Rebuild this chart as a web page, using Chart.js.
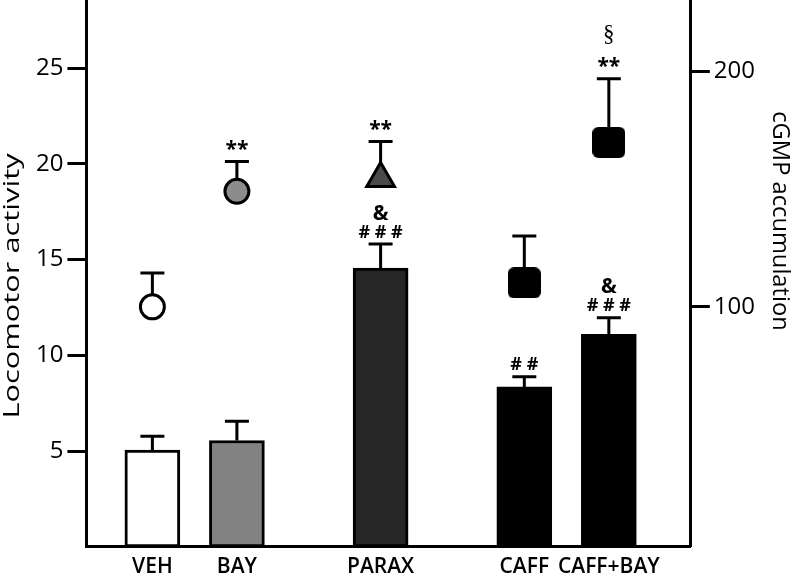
<!DOCTYPE html>
<html>
<head>
<meta charset="utf-8">
<script src="https://cdn.jsdelivr.net/npm/chart.js@4.4.1/dist/chart.umd.min.js"></script>
<style>
html, body { margin: 0; padding: 0; background: #fff; overflow: hidden; }
/* the y axes reserve room above the top tick; shift it out so the axes run to the top edge */
#wrap { width: 792px; height: 606px; margin-top: -18px; }
</style>
</head>
<body>
<div id="wrap"><canvas id="myChart"></canvas></div>
<script>
var groups = ['VEH', 'BAY', 'PARAX', 'CAFF', 'CAFF+BAY'];
var locomotor = [5.05, 5.55, 14.55, 8.35, 11.1];
var locomotorErr = [0.72, 1.0, 1.26, 0.53, 0.86];
var cgmp = [100.0, 149.1, 154.6, 110.2, 169.9];
var cgmpErr = [14.4, 12.7, 15.7, 19.9, 27.1];
var leftTicks = [5, 10, 15, 20, 25];
var rightTicks = [100, 200];
var barNotes = [[], [], ['# # #', '&'], ['# #'], ['# # #', '&']];
var pointNotes = [[], ['**'], ['**'], [], ['**', '§']];

// where the groups sit along the x axis (gaps between pairs)
var slots = [0.78, 1.78, 3.48, 5.18, 6.18];

function roundedSquare(w, h, r) {
    var c = document.createElement('canvas');
    c.width = w;
    c.height = h;
    var g = c.getContext('2d');
    g.fillStyle = '#000';
    g.beginPath();
    g.moveTo(r, 0);
    g.lineTo(w - r, 0);
    g.arcTo(w, 0, w, r, r);
    g.lineTo(w, h - r);
    g.arcTo(w, h, w - r, h, r);
    g.lineTo(r, h);
    g.arcTo(0, h, 0, h - r, r);
    g.lineTo(0, r);
    g.arcTo(0, 0, r, 0, r);
    g.closePath();
    g.fill();
    return c;
}
var square = roundedSquare(33, 31, 6);

var errs = [locomotorErr, cgmpErr];
var notes = [barNotes, pointNotes];
var noteStart = [13, 16];
var noteStep = [19, 28];

var errorBars = {
    id: 'errorBars',
    beforeDatasetsDraw: function (chart) {
        var ctx = chart.ctx;
        ctx.save();
        ctx.strokeStyle = '#000';
        ctx.lineWidth = 3;
        chart.data.datasets.forEach(function (ds, i) {
            var meta = chart.getDatasetMeta(i);
            var scale = chart.scales[ds.yAxisID];
            meta.data.forEach(function (el, j) {
                var top = scale.getPixelForValue(ds.data[j].y + errs[i][j]);
                ctx.beginPath();
                ctx.moveTo(el.x, el.y);
                ctx.lineTo(el.x, top);
                ctx.moveTo(el.x - 12, top);
                ctx.lineTo(el.x + 12, top);
                ctx.stroke();
            });
        });
        ctx.restore();
    },
    afterDatasetsDraw: function (chart) {
        var ctx = chart.ctx;
        ctx.save();
        ctx.fillStyle = '#000';
        ctx.textAlign = 'center';
        ctx.textBaseline = 'alphabetic';
        chart.data.datasets.forEach(function (ds, i) {
            var meta = chart.getDatasetMeta(i);
            var scale = chart.scales[ds.yAxisID];
            meta.data.forEach(function (el, j) {
                var top = scale.getPixelForValue(ds.data[j].y + errs[i][j]);
                notes[i][j].forEach(function (txt, k) {
                    if (txt === '§') ctx.font = '23px "Liberation Serif"';
                    else if (txt.indexOf('#') >= 0) ctx.font = 'bold 18px "Open Sans"';
                    else ctx.font = 'bold 21px "Open Sans"';
                    var m = ctx.measureText(txt);
                    var cy = top - noteStart[i] - k * noteStep[i];
                    ctx.fillText(txt, el.x, cy + (m.actualBoundingBoxAscent - m.actualBoundingBoxDescent) / 2);
                });
            });
        });
        ctx.restore();
    }
};

// axis titles, stretched along the text like the original figure
var axisTitles = {
    id: 'axisTitles',
    afterDraw: function (chart) {
        var ctx = chart.ctx;
        var top = chart.chartArea.top;
        ctx.save();
        ctx.fillStyle = '#000';
        ctx.textAlign = 'center';
        ctx.textBaseline = 'middle';
        ctx.font = '22px "Open Sans"';
        ctx.translate(13, top + 285);
        ctx.rotate(-Math.PI / 2);
        ctx.scale(1.4, 1);
        ctx.fillText('Locomotor activity', 0, 0);
        ctx.restore();

        ctx.save();
        ctx.fillStyle = '#000';
        ctx.textAlign = 'center';
        ctx.textBaseline = 'middle';
        ctx.font = '23px "Open Sans"';
        ctx.translate(780, top + 220);
        ctx.rotate(Math.PI / 2);
        ctx.scale(1.03, 1);
        ctx.fillText('cGMP accumulation', 0, 0);
        ctx.restore();
    }
};

var ctx = document.getElementById('myChart').getContext('2d');
var myChart = new Chart(ctx, {
    type: 'bar',
    data: {
        datasets: [
            {
                type: 'bar',
                label: 'Locomotor activity',
                data: locomotor.map(function (v, i) { return { x: slots[i], y: v }; }),
                backgroundColor: ['#ffffff', '#828282', '#262626', '#000000', '#000000'],
                borderColor: '#000',
                borderWidth: 3,
                borderSkipped: false,
                barThickness: 55,
                xAxisID: 'x',
                yAxisID: 'y',
                order: 2
            },
            {
                type: 'scatter',
                label: 'cGMP accumulation',
                data: cgmp.map(function (v, i) { return { x: slots[i], y: v }; }),
                pointStyle: ['circle', 'circle', 'triangle', square, square],
                pointRadius: [12, 12, 16, 16, 16],
                pointBackgroundColor: ['#ffffff', '#8c8c8c', '#4a4a4a', '#000', '#000'],
                pointBorderColor: '#000',
                pointBorderWidth: 3,
                xAxisID: 'x',
                yAxisID: 'y2',
                order: 1
            }
        ]
    },
    options: {
        responsive: true,
        maintainAspectRatio: false,
        animation: false,
        layout: { padding: { left: 32, right: 33, top: 0, bottom: 0 } },
        plugins: {
            legend: { display: false },
            tooltip: { enabled: false }
        },
        scales: {
            x: {
                type: 'linear',
                min: 0,
                max: 7.15,
                offset: false,
                afterBuildTicks: function (scale) {
                    scale.ticks = slots.map(function (v) { return { value: v }; });
                },
                ticks: {
                    autoSkip: false,
                    maxRotation: 0,
                    padding: 8,
                    color: '#000',
                    font: { family: 'Open Sans', size: 21, weight: '600' },
                    callback: function (v, i) { return groups[i]; }
                },
                grid: { display: false, drawTicks: false },
                border: { display: true, color: '#000', width: 3 }
            },
            y: {
                position: 'left',
                min: 0,
                max: 28.5,
                afterBuildTicks: function (scale) {
                    scale.ticks = leftTicks.map(function (v) { return { value: v }; });
                },
                ticks: {
                    padding: 4,
                    color: '#000',
                    font: { family: 'Open Sans', size: 24 }
                },
                grid: { drawOnChartArea: false, drawTicks: true, tickLength: 19, tickWidth: 3, color: '#000' },
                border: { display: true, color: '#000', width: 3 }
            },
            y2: {
                position: 'right',
                min: -2,
                max: 230,
                afterBuildTicks: function (scale) {
                    scale.ticks = rightTicks.map(function (v) { return { value: v }; });
                },
                ticks: {
                    padding: 4,
                    color: '#000',
                    font: { family: 'Open Sans', size: 24 }
                },
                grid: { drawOnChartArea: false, drawTicks: true, tickLength: 19, tickWidth: 3, color: '#000' },
                border: { display: true, color: '#000', width: 3 }
            }
        }
    },
    plugins: [errorBars, axisTitles]
});
</script>
</body>
</html>
